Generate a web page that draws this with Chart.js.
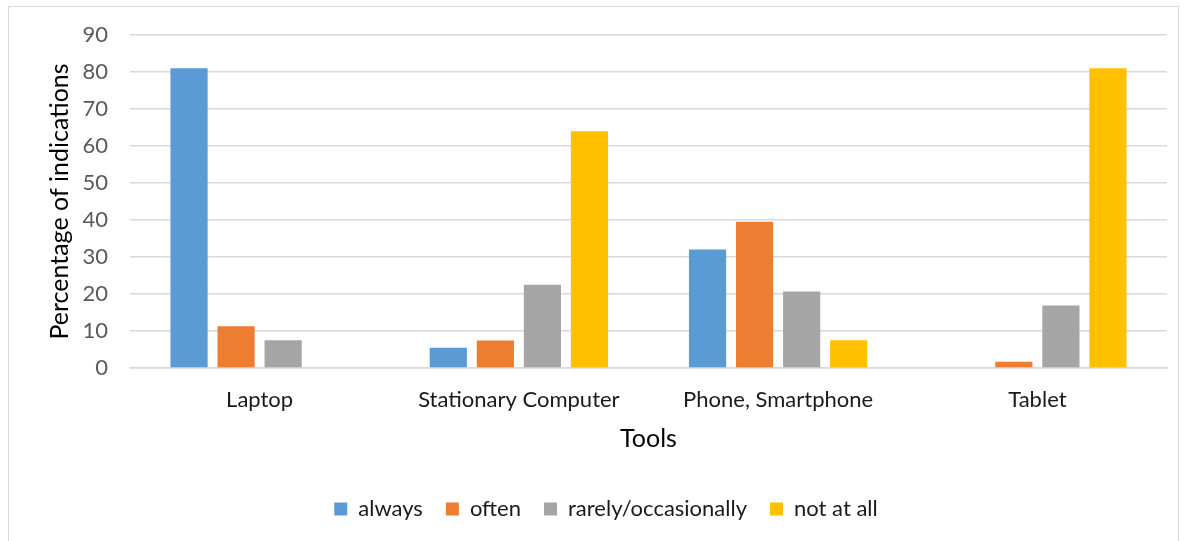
<!DOCTYPE html>
<html>
<head>
<meta charset="utf-8">
<script src="https://cdn.jsdelivr.net/npm/chart.js@4.4.1/dist/chart.umd.min.js"></script>
<style>
  body { margin: 0; background: #fff; overflow: hidden; }
  #wrap {
    position: absolute; left: 8px; top: 6px;
    width: 1171px; height: 545px;
    border: 1px solid #d9d9d9; box-sizing: border-box;
  }
</style>
</head>
<body>
<div id="wrap"><canvas id="toolsChart"></canvas></div>
<script>
// data
const tools = ['Laptop', 'Stationary Computer', 'Phone, Smartphone', 'Tablet'];
const always = [81, 5.5, 32, 0];
const often = [11.3, 7.4, 39.5, 1.7];
const rarely = [7.5, 22.5, 20.7, 16.9];
const notAtAll = [0, 64, 7.5, 81];
const yTicks = [0, 10, 20, 30, 40, 50, 60, 70, 80, 90];

const FONT = 'Lato, "Noto Sans", sans-serif';

function bars(label, data, color) {
    return {
        label: label,
        data: data,
        backgroundColor: color,
        borderWidth: 0,
        categoryPercentage: 0.726,
        barPercentage: 0.79
    };
}

// legend sits a bit right of centre in the original (centred on the plot area)
const legendShift = {
    id: 'legendShift',
    afterLayout(chart) {
        const lg = chart.legend;
        if (!lg) return;
        lg.left += 18;
        lg.right += 18;
    }
};

const ctx = document.getElementById('toolsChart').getContext('2d');
new Chart(ctx, {
    type: 'bar',
    data: {
        labels: tools,
        datasets: [
            bars('always', always, '#5b9bd5'),
            bars('often', often, '#ed7d31'),
            bars('rarely/occasionally', rarely, '#a5a5a5'),
            bars('not at all', notAtAll, '#ffc000')
        ]
    },
    options: {
        responsive: true,
        maintainAspectRatio: false,
        animation: false,
        layout: {
            padding: { top: 28, right: 11, bottom: 20, left: 0 }
        },
        plugins: {
            tooltip: { enabled: false },
            legend: {
                position: 'bottom',
                labels: {
                    font: { family: FONT, size: 22 },
                    color: '#1a1a1a',
                    boxWidth: 13,
                    boxHeight: 13,
                    padding: 23
                }
            }
        },
        scales: {
            x: {
                grid: { display: false },
                border: { color: '#d9d9d9', width: 1.5 },
                ticks: {
                    font: { family: FONT, size: 22 },
                    color: '#1a1a1a',
                    padding: 11
                },
                title: {
                    display: true,
                    text: 'Tools',
                    font: { family: FONT, size: 25 },
                    color: '#000',
                    padding: { top: 0, bottom: 21 }
                },
                afterFit: function(scale) { scale.height = 107; }
            },
            y: {
                min: 0,
                max: 90,
                afterBuildTicks: function(scale) {
                    scale.ticks = yTicks.map(v => ({ value: v }));
                },
                grid: {
                    color: '#d9d9d9',
                    lineWidth: 1.5,
                    drawTicks: false
                },
                border: { display: false },
                ticks: {
                    font: { family: FONT, size: 22 },
                    color: '#595959',
                    padding: 22
                },
                title: {
                    display: true,
                    text: 'Percentage of indications',
                    font: { family: FONT, size: 25 },
                    color: '#000',
                    padding: { top: 36, bottom: 0 }
                },
                afterFit: function(scale) {
                    scale.width = 121;
                    scale.paddingTop = 0;
                    scale.paddingBottom = 0;
                }
            }
        }
    },
    plugins: [legendShift]
});
</script>
</body>
</html>
